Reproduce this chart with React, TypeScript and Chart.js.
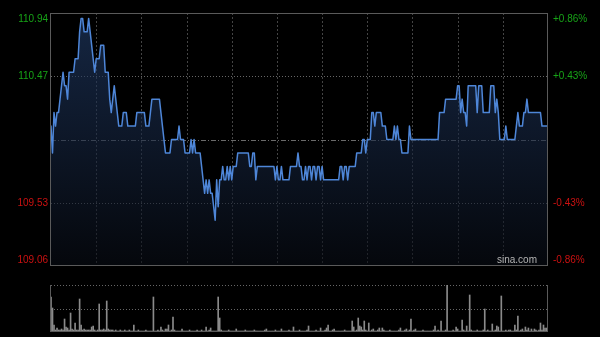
import React, { useEffect, useRef } from 'react';
import { Chart, registerables } from 'chart.js';

Chart.register(...registerables);

// Minute index of the trading session (HK session: 330 minutes)
const sessionMinutes = 330;
const gridMinutes = [30, 60, 90, 120, 150, 180, 210, 240, 270, 300];

const prevClose = 110.0;
const priceMin = 109.06;
const priceMax = 110.94;
const priceTicks = [110.94, 110.47, 109.53, 109.06];
const priceTickLabels = ['110.94', '110.47', '109.53', '109.06'];
const pctTickLabels = ['+0.86%', '+0.43%', '-0.43%', '-0.86%'];

const prices = [
  110.1, 109.9, 110.2, 110.1, 110.2, 110.2, 110.3, 110.4, 110.5, 110.4,
  110.4, 110.3, 110.5, 110.5, 110.5, 110.5, 110.6, 110.6, 110.6, 110.8,
  110.9, 110.9, 110.8, 110.8, 110.8, 110.9, 110.8, 110.7, 110.6, 110.5,
  110.6, 110.6, 110.6, 110.7, 110.7, 110.7, 110.5, 110.5, 110.5, 110.3,
  110.2, 110.3, 110.4, 110.3, 110.2, 110.1, 110.1, 110.1, 110.2, 110.2,
  110.2, 110.1, 110.1, 110.1, 110.1, 110.1, 110.1, 110.2, 110.2, 110.2,
  110.2, 110.2, 110.2, 110.1, 110.1, 110.1, 110.2, 110.3, 110.3, 110.3,
  110.3, 110.3, 110.3, 110.2, 110.1, 110.0, 109.9, 109.9, 109.9, 109.9,
  110.0, 110.0, 110.0, 110.0, 110.0, 110.1, 110.0, 110.0, 110.0, 109.9,
  109.9, 109.9, 109.9, 110.0, 109.9, 110.0, 109.9, 109.9, 109.9, 109.9,
  109.8, 109.7, 109.6, 109.7, 109.6, 109.7, 109.6, 109.6, 109.5, 109.4,
  109.7, 109.5, 109.7, 109.7, 109.8, 109.7, 109.7, 109.8, 109.7, 109.8,
  109.7, 109.8, 109.8, 109.8, 109.9, 109.9, 109.9, 109.9, 109.9, 109.9,
  109.9, 109.9, 109.8, 109.8, 109.9, 109.9, 109.7, 109.8, 109.8, 109.8,
  109.8, 109.8, 109.8, 109.8, 109.8, 109.8, 109.8, 109.8, 109.8, 109.7,
  109.8, 109.7, 109.7, 109.8, 109.7, 109.7, 109.7, 109.7, 109.7, 109.8,
  109.8, 109.8, 109.8, 109.8, 109.9, 109.8, 109.8, 109.7, 109.7, 109.8,
  109.7, 109.8, 109.8, 109.7, 109.8, 109.8, 109.7, 109.8, 109.8, 109.7,
  109.8, 109.7, 109.7, 109.7, 109.7, 109.7, 109.7, 109.7, 109.7, 109.7,
  109.7, 109.7, 109.8, 109.8, 109.7, 109.8, 109.8, 109.7, 109.8, 109.8,
  109.8, 109.8, 109.8, 109.9, 109.9, 109.9, 109.9, 110.0, 110.0, 109.9,
  110.0, 110.0, 110.0, 110.2, 110.2, 110.1, 110.2, 110.2, 110.2, 110.2,
  110.1, 110.1, 110.1, 110.0, 110.0, 110.0, 110.0, 110.0, 110.1, 110.0,
  110.1, 110.0, 110.0, 109.9, 109.9, 109.9, 109.9, 109.9, 110.1, 110.0,
  110.0, 110.0, 110.0, 110.0, 110.0, 110.0, 110.0, 110.0, 110.0, 110.0,
  110.0, 110.0, 110.0, 110.0, 110.0, 110.0, 110.0, 110.0, 110.2, 110.2,
  110.2, 110.2, 110.3, 110.3, 110.3, 110.3, 110.3, 110.3, 110.3, 110.3,
  110.4, 110.4, 110.2, 110.3, 110.2, 110.2, 110.1, 110.4, 110.4, 110.4,
  110.4, 110.4, 110.4, 110.2, 110.4, 110.4, 110.4, 110.2, 110.2, 110.2,
  110.2, 110.2, 110.4, 110.4, 110.4, 110.2, 110.3, 110.2, 110.0, 110.0,
  110.0, 110.0, 110.1, 110.0, 110.0, 110.0, 110.0, 110.0, 110.0, 110.1,
  110.2, 110.1, 110.1, 110.1, 110.2, 110.2, 110.3, 110.2, 110.2, 110.2,
  110.2, 110.2, 110.2, 110.2, 110.2, 110.2, 110.1, 110.1, 110.1, 110.1,
  110.1,
];

const volumes = [
  35, 24, 7, 2, 4, 2, 2, 3, 2, 13,
  5, 4, 2, 19, 3, 2, 9, 2, 2, 33,
  7, 2, 3, 2, 2, 2, 2, 5, 6, 2,
  1, 2, 28, 2, 2, 3, 2, 31, 3, 2,
  2, 2, 1, 2, 1, 1, 2, 1, 1, 2,
  1, 1, 2, 1, 1, 7, 1, 1, 2, 1,
  1, 1, 1, 2, 1, 1, 1, 1, 35, 1,
  1, 2, 1, 5, 2, 1, 3, 3, 7, 1,
  2, 15, 2, 1, 1, 1, 1, 3, 1, 1,
  1, 1, 2, 1, 1, 1, 1, 2, 1, 1,
  2, 1, 1, 5, 1, 2, 4, 1, 1, 1,
  1, 35, 14, 2, 1, 1, 1, 1, 2, 1,
  1, 1, 1, 3, 1, 1, 1, 1, 1, 2,
  1, 1, 1, 1, 1, 2, 1, 1, 1, 1,
  1, 1, 2, 3, 1, 1, 1, 1, 1, 2,
  1, 1, 1, 3, 1, 1, 1, 1, 2, 1,
  1, 5, 1, 1, 1, 2, 1, 1, 1, 1,
  2, 6, 1, 1, 1, 1, 2, 1, 1, 4,
  1, 1, 2, 4, 7, 1, 1, 2, 3, 1,
  1, 1, 1, 1, 1, 2, 1, 1, 1, 1,
  11, 5, 1, 2, 14, 6, 5, 2, 11, 2,
  1, 9, 1, 2, 3, 1, 1, 2, 4, 1,
  4, 2, 1, 1, 1, 2, 1, 1, 1, 1,
  1, 2, 4, 1, 1, 2, 3, 1, 2, 13,
  1, 2, 3, 1, 1, 1, 1, 2, 1, 1,
  1, 1, 1, 1, 2, 6, 1, 2, 1, 11,
  1, 1, 2, 47, 1, 1, 1, 2, 1, 5,
  3, 1, 1, 12, 2, 1, 6, 1, 37, 2,
  1, 1, 1, 2, 1, 1, 1, 2, 23, 1,
  2, 1, 1, 8, 1, 2, 6, 5, 1, 36,
  1, 1, 2, 1, 2, 2, 1, 1, 7, 2,
  16, 1, 2, 3, 1, 5, 2, 4, 1, 3,
  1, 3, 2, 1, 2, 9, 2, 7, 4, 4,
  3,
];
const volumeMax = 47;
const volumeGrid = [47, 23.5];

const FONT = '10px "Liberation Sans", Arial, Helvetica, sans-serif';
const GREEN = '#17a317';
const RED = '#cc1111';

const priceGridPlugin = {
  id: 'priceGrid',
  beforeDatasetsDraw(chart: any) {
    const { ctx, chartArea, scales } = chart;
    const { left, right, top, bottom } = chartArea;
    const x = scales.x;
    const y = scales.y;
    ctx.save();
    ctx.lineWidth = 1;
    // vertical dotted grid
    ctx.strokeStyle = '#444';
    ctx.setLineDash([2, 2]);
    for (const m of gridMinutes) {
      const px = Math.round(x.getPixelForValue(m)) + 0.5;
      ctx.beginPath();
      ctx.moveTo(px, top);
      ctx.lineTo(px, bottom);
      ctx.stroke();
    }
    // horizontal dotted grid
    ctx.strokeStyle = '#666';
    ctx.setLineDash([1, 2]);
    for (const v of [priceTicks[1], priceTicks[2]]) {
      const py = Math.round(y.getPixelForValue(v)) + 0.5;
      ctx.beginPath();
      ctx.moveTo(left, py);
      ctx.lineTo(right, py);
      ctx.stroke();
    }
    // previous close dash-dot line
    ctx.strokeStyle = '#6a6a6a';
    ctx.setLineDash([5, 2, 1, 2]);
    const pc = Math.round(y.getPixelForValue(prevClose)) + 0.5;
    ctx.beginPath();
    ctx.moveTo(left, pc);
    ctx.lineTo(right, pc);
    ctx.stroke();
    ctx.restore();
  },
  afterDraw(chart: any) {
    const { ctx, chartArea, scales } = chart;
    const { left, right, top, bottom } = chartArea;
    const y = scales.y;
    ctx.save();
    // border
    ctx.strokeStyle = '#5a5a5a';
    ctx.lineWidth = 1;
    ctx.setLineDash([]);
    ctx.strokeRect(Math.round(left) - 0.5, Math.round(top) + 0.5, Math.round(right - left), Math.round(bottom - top) - 1);
    // labels
    ctx.font = FONT;
    ctx.textBaseline = 'middle';
    priceTicks.forEach((v, i) => {
      let py = y.getPixelForValue(v);
      if (i === 0) py += 6;
      if (i === priceTicks.length - 1) py -= 6;
      ctx.fillStyle = v > prevClose ? GREEN : RED;
      ctx.textAlign = 'right';
      ctx.fillText(priceTickLabels[i], left - 3, py);
      ctx.textAlign = 'left';
      ctx.fillText(pctTickLabels[i], right + 5, py);
    });
    // watermark
    ctx.fillStyle = '#b4b4b4';
    ctx.textAlign = 'right';
    ctx.font = '10px "Liberation Sans", Arial, sans-serif';
    ctx.fillText('sina.com', right - 11, bottom - 6);
    ctx.restore();
  },
};

const volumeGridPlugin = {
  id: 'volumeGrid',
  beforeDatasetsDraw(chart: any) {
    const { ctx, chartArea, scales } = chart;
    const { left, right } = chartArea;
    const y = scales.y;
    ctx.save();
    ctx.strokeStyle = '#666';
    ctx.lineWidth = 1;
    ctx.setLineDash([1, 2]);
    for (const v of volumeGrid) {
      const py = Math.round(y.getPixelForValue(v)) + 0.5;
      ctx.beginPath();
      ctx.moveTo(left, py);
      ctx.lineTo(right, py);
      ctx.stroke();
    }
    ctx.restore();
  },
  afterDraw(chart: any) {
    const { ctx, chartArea } = chart;
    const { left, right, top, bottom } = chartArea;
    ctx.save();
    ctx.strokeStyle = '#5a5a5a';
    ctx.lineWidth = 1;
    ctx.beginPath();
    ctx.moveTo(Math.round(left) - 0.5, top);
    ctx.lineTo(Math.round(left) - 0.5, bottom);
    ctx.moveTo(Math.round(right) - 0.5, top);
    ctx.lineTo(Math.round(right) - 0.5, bottom);
    ctx.moveTo(left, Math.round(bottom) - 0.5);
    ctx.lineTo(right, Math.round(bottom) - 0.5);
    ctx.stroke();
    ctx.restore();
  },
};

export default function App() {
  const priceRef = useRef<HTMLCanvasElement>(null);
  const volRef = useRef<HTMLCanvasElement>(null);

  useEffect(() => {
    const priceChart = new Chart(priceRef.current as HTMLCanvasElement, {
      type: 'line',
      data: {
        datasets: [
          {
            data: prices.map((p, i) => ({ x: i, y: p })),
            borderColor: '#4e86d8',
            borderWidth: 1.5,
            borderJoinStyle: 'round',
            borderCapStyle: 'round',
            pointRadius: 0,
            tension: 0,
            fill: 'start',
            backgroundColor: (c: any) => {
              const ch = c.chart;
              const ca = ch.chartArea;
              if (!ca) return 'rgba(0,0,0,0)';
              const g = ch.ctx.createLinearGradient(0, ca.top, 0, ca.bottom);
              g.addColorStop(0, 'rgba(34,62,108,0.62)');
              g.addColorStop(0.5, 'rgba(22,38,66,0.6)');
              g.addColorStop(1, 'rgba(8,12,20,0.6)');
              return g;
            },
          },
        ],
      },
      options: {
        animation: false,
        responsive: false,
        maintainAspectRatio: false,
        layout: { padding: { left: 51, right: 52, top: 13, bottom: 4 } },
        scales: {
          x: { type: 'linear', min: 0, max: sessionMinutes, display: false },
          y: { type: 'linear', min: priceMin, max: priceMax, display: false },
        },
        plugins: { legend: { display: false }, tooltip: { enabled: false } },
      },
      plugins: [priceGridPlugin],
    } as any);

    const volChart = new Chart(volRef.current as HTMLCanvasElement, {
      type: 'bar',
      data: {
        datasets: [
          {
            data: volumes.map((v, i) => ({ x: i, y: v })),
            backgroundColor: '#8a8a8a',
            barThickness: 1,
            borderWidth: 0,
          },
        ],
      },
      options: {
        animation: false,
        responsive: false,
        maintainAspectRatio: false,
        layout: { padding: { left: 51, right: 52, top: 15, bottom: 5 } },
        scales: {
          x: { type: 'linear', min: 0, max: sessionMinutes, offset: false, display: false },
          y: { type: 'linear', min: 0, max: volumeMax, display: false },
        },
        plugins: { legend: { display: false }, tooltip: { enabled: false } },
      },
      plugins: [volumeGridPlugin],
    } as any);

    return () => {
      priceChart.destroy();
      volChart.destroy();
    };
  }, []);

  return (
    <div style={{ position: 'fixed', left: 0, top: 0, width: 600, height: 337, background: '#000', overflow: 'hidden' }}>
      <canvas ref={priceRef} width={600} height={270} style={{ position: 'absolute', left: 0, top: 0, width: 600, height: 270 }} />
      <canvas ref={volRef} width={600} height={67} style={{ position: 'absolute', left: 0, top: 270, width: 600, height: 67 }} />
    </div>
  );
}
